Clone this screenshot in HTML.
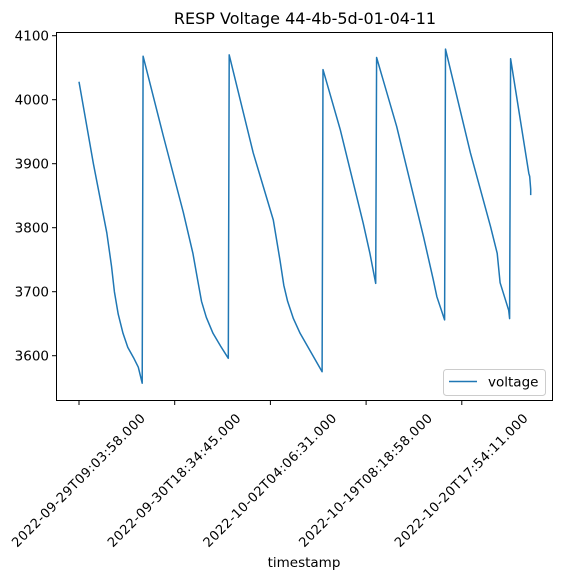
<!DOCTYPE html>
<html><head><meta charset="utf-8"><style>
body{margin:0;background:#fff;}
svg text{font-family:"DejaVu Sans","Liberation Sans",sans-serif;fill:#000;}
</style></head><body>
<svg id="chart" width="562" height="579">
<text x="305" y="24" font-size="16" text-anchor="middle">RESP Voltage 44-4b-5d-01-04-11</text>
<rect x="56.5" y="32.5" width="496" height="368" fill="none" stroke="#000" stroke-width="1"/>
<g id="yaxis"></g>
<g id="xaxis"></g>
<g id="series"></g>
<text x="304" y="567" font-size="13.5" text-anchor="middle">timestamp</text>
<g>
<rect x="443.5" y="369.5" width="102" height="26" rx="3" fill="#fff" stroke="#ccc"/>
<line x1="449" y1="381.5" x2="477" y2="381.5" stroke="#1f77b4" stroke-width="1.5"/>
<text x="488" y="386.5" font-size="13.5">voltage</text>
</g>
</svg>
<script>
const yTicks=[3600,3700,3800,3900,4000,4100];
const xTickIdx=[0,100,200,300,400];
const xTickLabels=["2022-09-29T09:03:58.000","2022-09-30T18:34:45.000","2022-10-02T04:06:31.000","2022-10-19T08:18:58.000","2022-10-20T17:54:11.000"];
const seg1X=[0,15,29,34,37,41,46,51,57,62,66];
const seg1V=[4028,3900,3792,3740,3700,3665,3635,3613,3597,3582,3557];
const seg2X=[67,88,109,119,124,128,133,140,148,156];
const seg2V=[4068,3944,3824,3760,3718,3685,3660,3635,3615,3596];
const seg3X=[157,182,203,210,214,218,224,231,241,254];
const seg3V=[4070,3917,3812,3749,3710,3685,3658,3635,3609,3575];
const seg4X=[255,273,297,304,310];
const seg4V=[4047,3953,3807,3760,3713];
const seg5X=[311,332,360,370,374,382];
const seg5V=[4066,3958,3786,3720,3692,3656];
const seg6X=[383,409,430,437,440,449,450];
const seg6V=[4079,3917,3802,3760,3714,3671,3658];
const seg7X=[451,470,471,472,472];
const seg7V=[4064,3885,3880,3860,3851];
const segsX=[seg1X,seg2X,seg3X,seg4X,seg5X,seg6X,seg7X];
const segsV=[seg1V,seg2V,seg3V,seg4V,seg5V,seg6V,seg7V];
const NS="http://www.w3.org/2000/svg";
function xs(i){return 79+i*0.957;}
function ys(v){return 35.7+(4100-v)*0.64;}
const ya=document.getElementById('yaxis');
yTicks.forEach(t=>{
  const y=ys(t);
  const l=document.createElementNS(NS,'line');
  l.setAttribute('x1',52);l.setAttribute('x2',56);l.setAttribute('y1',y);l.setAttribute('y2',y);l.setAttribute('stroke','#000');
  
  
  ya.appendChild(l);
  const tx=document.createElementNS(NS,'text');
  tx.setAttribute('x',49);tx.setAttribute('y',y+5);tx.setAttribute('font-size','13.5');tx.setAttribute('text-anchor','end');
  tx.textContent=t;
  
  
  ya.appendChild(tx);
});
const xa=document.getElementById('xaxis');
xTickIdx.forEach((t,k)=>{
  const x=xs(t);
  const l=document.createElementNS(NS,'line');
  l.setAttribute('x1',x);l.setAttribute('x2',x);l.setAttribute('y1',401);l.setAttribute('y2',405);l.setAttribute('stroke','#000');
  
  
  xa.appendChild(l);
  const tx=document.createElementNS(NS,'text');
  tx.setAttribute('font-size','13');tx.setAttribute('text-anchor','middle');
  tx.setAttribute('dominant-baseline','central');
  tx.setAttribute('textLength','182');
  tx.setAttribute('transform','translate('+x+',481) rotate(-45)');
  tx.textContent=xTickLabels[k];
  
  
  xa.appendChild(tx);
});
const sg=document.getElementById('series');
let d='';
segsX.forEach((sx,s)=>{
  sx.forEach((xi,j)=>{
    d+=((s===0&&j===0)?'M':'L')+xs(xi).toFixed(1)+','+ys(segsV[s][j]).toFixed(1)+' ';
  });
});
const p=document.createElementNS(NS,'path');
p.setAttribute('d',d);p.setAttribute('fill','none');p.setAttribute('stroke','#1f77b4');p.setAttribute('stroke-width','1.5');p.setAttribute('stroke-linejoin','round');


sg.appendChild(p);
</script>
</body></html>
